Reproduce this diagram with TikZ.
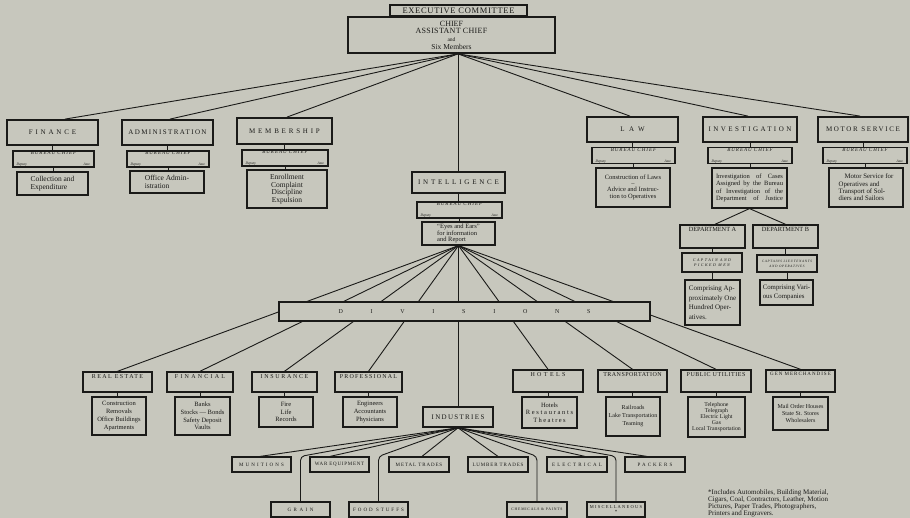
\documentclass[tikz,border=0pt]{standalone}
\usepackage{fontspec}
\setmainfont{Liberation Serif}
\definecolor{paper}{RGB}{199,199,189}
\definecolor{ink}{RGB}{26,26,24}
\newcommand\ls[2]{{\addfontfeatures{LetterSpace=#1}#2}}
\newcommand\fs[2]{\fontsize{#1}{#2}\selectfont}
\newcommand\bureau[1]{\parbox{#1pt}{\centering{\fs{5}{5.4}\itshape\ls{20}{BUREAU CHIEF}}\\[-0.6pt]\makebox[#1pt]{\fs{3.6}{3.8}\itshape Deputy\hfill Asst.}}}
\pgfdeclarelayer{bg}
\pgfsetlayers{bg,main}
\tikzset{
  sz/.style 2 args={minimum width=#1pt, minimum height=#2pt},
  every node/.style={inner sep=0pt, text=ink},
  top/.style={draw=ink, line width=1.8pt, fill=paper, align=center},
  L1/.style={draw=ink, line width=1.8pt, fill=paper, font=\fs{7}{8}},
  bc/.style={draw=ink, line width=1.3pt, fill=paper},
  ct/.style={draw=ink, line width=1.2pt, fill=paper, align=center, font=\fs{6.5}{7.7}},
  lab/.style={anchor=north, yshift=-2.8pt, inner sep=0pt, text=ink, font=\fs{6}{7}},
  hd/.style={draw=ink, line width=1.4pt, fill=paper, label={[lab]north:{#1}}},
  ib/.style={draw=ink, line width=1.2pt, fill=paper, align=center, font=\fs{5}{6}},
  conn/.style={draw=ink, line width=0.9pt},
}
\begin{document}
\begin{tikzpicture}[x=1pt,y=-1pt]
\begin{pgfonlayer}{bg}
\fill[paper] (0,0) rectangle (910,518);
\end{pgfonlayer}
\useasboundingbox (0,0) rectangle (910,518);

% ---------- executive
\node[top, sz={207}{36}, font=\fs{8}{7.6}] (chief) at (451.5,35)
  {CHIEF\\\ls{4}{ASSISTANT CHIEF}\\{\fs{5.5}{7.6}and}\\[0.4pt]{\fs{7.5}{7.6}Six Members}};
\node[top, sz={137}{11}, font=\fs{8.5}{9}] (exec) at (458.5,10.5) {\ls{8}{EXECUTIVE COMMITTEE}};

% ---------- top departments
\node[L1, sz={91}{25}] (finance) at (52.5,132.5) {\ls{40}{FINANCE}};
\node[bc, sz={81}{16}] (finBC) at (53.5,159) {\bureau{74}};
\node[ct, sz={71}{23}, align=left, font=\fs{7.5}{8}] (finC) at (52.5,183.5) {Collection and\\Expenditure};

\node[L1, sz={91}{25}] (admin) at (167.5,132.5) {\ls{20}{ADMINISTRATION}};
\node[bc, sz={82}{16}] (admBC) at (168,159) {\bureau{75}};
\node[ct, sz={74}{22}, align=left, font=\fs{7.5}{8}] (admC) at (167,182) {Office Admin-\\istration};

\node[L1, sz={95}{26}] (memb) at (284.5,131) {\ls{40}{MEMBERSHIP}};
\node[bc, sz={86}{16}] (memBC) at (285,158) {\bureau{79}};
\node[ct, sz={80}{38}, font=\fs{7.5}{7.5}] (memC) at (287,189) {Enrollment\\Complaint\\Discipline\\Expulsion};

\node[L1, sz={91}{25}] (law) at (632.5,129.5) {\ls{65}{LAW}};
\node[bc, sz={83}{15}] (lawBC) at (633.5,155.5) {\bureau{76}};
\node[ct, sz={74}{39}, font=\fs{6.5}{7}] (lawC) at (633,187.5) {Construction of Laws\\[-1pt]--\\[-1pt]Advice and Instruc-\\tion to Operatives};

\node[L1, sz={94}{25}] (inv) at (750,129.5) {\ls{35}{INVESTIGATION}};
\node[bc, sz={84}{15}] (invBC) at (750,155.5) {\bureau{77}};
\node[ct, sz={75}{40}, font=\fs{6.5}{7.3}] (invC) at (749.5,188)
  {\makebox[67pt][s]{Investigation of Cases}\\\makebox[67pt][s]{Assigned by the Bureau}\\\makebox[67pt][s]{of Investigation of the}\\\makebox[67pt][s]{Department of Justice}};

\node[L1, sz={90}{25}] (motor) at (863,129.5) {\ls{24}{MOTOR SERVICE}};
\node[bc, sz={84}{15}] (motBC) at (865,155.5) {\bureau{77}};
\node[ct, sz={74}{39}, align=left, font=\fs{6.8}{7.3}] (motC) at (866,187.5)
  {\hspace*{6pt}Motor Service for\\Operatives and\\Transport of Sol-\\diers and Sailors};

% ---------- investigation departments
\node[hd={\fs{6.3}{7}DEPARTMENT A}, sz={65}{23}] (deptA) at (712.5,236.5) {};
\node[hd={\fs{6.3}{7}DEPARTMENT B}, sz={65}{23}] (deptB) at (785.5,236.5) {};
\node[bc, sz={60}{19}, align=center, font=\fs{4}{5.5}\itshape] (deptA2) at (712,262.5) {\ls{37}{CAPTAIN AND}\\\ls{37}{PICKED MEN}};
\node[bc, sz={60}{17}, align=center, font=\fs{3.4}{5}\itshape] (deptB2) at (787,263.5) {\ls{20}{CAPTAINS LIEUTENANTS}\\\ls{20}{AND OPERATIVES}};
\node[ct, sz={55}{45}, align=left, font=\fs{7}{9.5}] (deptA3) at (712.5,302.5) {Comprising Ap-\\proximately One\\Hundred Oper-\\atives.};
\node[ct, sz={53}{25}, align=left, font=\fs{6.8}{9}] (deptB3) at (786.5,292.5) {Comprising Vari-\\ous Companies};

% ---------- intelligence
\node[L1, sz={93}{21}] (intel) at (458.5,182.5) {\ls{40}{INTELLIGENCE}};
\node[bc, sz={85}{16}] (intBC) at (459.5,210) {\bureau{78}};
\node[ct, sz={73}{23}, align=left, font=\fs{6.5}{6.4}] (eyes) at (458.5,233.5) {``Eyes and Ears''\\for information\\and Report};

% ---------- divisions bar
\node[draw=ink, line width=1.2pt, fill=paper, sz={371}{19}, font=\fs{6}{7}] (div) at (464.5,311.5)
  {\makebox[252pt]{D\hfill I\hfill V\hfill I\hfill S\hfill I\hfill O\hfill N\hfill S}};

% ---------- divisions
\node[hd={\ls{24}{REAL ESTATE}}, sz={69}{20}] (realE) at (117.5,382) {};
\node[hd={\ls{37}{FINANCIAL}}, sz={66}{20}] (finl) at (200,382) {};
\node[hd={\ls{28}{INSURANCE}}, sz={65}{20}] (ins) at (284.5,382) {};
\node[hd={\ls{20}{PROFESSIONAL}}, sz={67}{20}] (prof) at (368.5,382) {};
\node[hd={\ls{40}{HOTELS}}, sz={70}{22}] (hotels) at (548,381) {};
\node[hd={\ls{8}{TRANSPORTATION}}, sz={69}{22}] (trans) at (632.5,381) {};
\node[hd={\ls{9}{PUBLIC UTILITIES}}, sz={70}{22}] (pub) at (716,381) {};
\node[hd={\fs{5}{6}\ls{20}{GEN MERCHANDISE}}, sz={69}{22}] (gen) at (800.5,381) {};
\node[L1, sz={70}{20}, line width=1.6pt] (ind) at (458,417) {\ls{19}{INDUSTRIES}};

\node[ct, sz={54}{38}] (realEC) at (119,416) {Construction\\Removals\\Office Buildings\\Apartments};
\node[ct, sz={55}{38}] (finlC) at (202.5,416) {Banks\\Stocks --- Bonds\\Safety Deposit\\Vaults};
\node[ct, sz={54}{30}] (insC) at (286,412) {Fire\\Life\\Records};
\node[ct, sz={54}{30}] (profC) at (370,412) {Engineers\\Accountants\\Physicians};
\node[ct, sz={55}{31}] (hotC) at (549.5,412.5) {Hotels\\\ls{26}{Restaurants}\\\ls{22}{Theatres}};
\node[ct, sz={54}{39}, font=\fs{6}{8}] (transC) at (633,416.5) {Railroads\\Lake Transportation\\Teaming};
\node[ct, sz={57}{40}, font=\fs{5.8}{6}] (pubC) at (716.5,417) {Telephone\\Telegraph\\Electric Light\\Gas\\Local Transportation};
\node[ct, sz={55}{33}, font=\fs{6}{7}] (genC) at (800.5,413.5) {Mail Order Houses\\State St. Stores\\Wholesalers};

% ---------- industries
\node[ib, sz={59}{15}] (mun) at (261.5,464.5) {\ls{42}{MUNITIONS}};
\node[ib, sz={59}{15}] (war) at (339.5,464.5) {\ls{15}{WAR EQUIPMENT}};
\node[ib, sz={60}{15}] (metal) at (419,464.5) {\ls{18}{METAL TRADES}};
\node[ib, sz={60}{15}] (lumber) at (498,464.5) {\ls{17}{LUMBER TRADES}};
\node[ib, sz={60}{15}] (elec) at (577,464.5) {\ls{43}{ELECTRICAL}};
\node[ib, sz={60}{15}] (pack) at (655,464.5) {\ls{42}{PACKERS}};
\node[ib, sz={59}{15}] (grain) at (300.5,509.5) {\ls{50}{GRAIN}};
\node[ib, sz={59}{15}] (food) at (378.5,509.5) {\ls{40}{FOOD STUFFS}};
\node[ib, sz={60}{15}] (chem) at (537,509.5) {\fs{3.8}{4}\ls{20}{CHEMICALS \& PAINTS}};
\node[ib, sz={58}{15}] (misc) at (616,509.5) {\fs{4.5}{4}\ls{27}{MISCELLANEOUS}\\[-1pt]*};

% ---------- footnote
\node[anchor=north west, align=left, font=\fs{7}{7}] (note) at (708,489)
  {*Includes Automobiles, Building Material,\\Cigars, Coal, Contractors, Leather, Motion\\Pictures, Paper Trades, Photographers,\\Printers and Engravers.};

% ---------- connectors
\begin{pgfonlayer}{bg}
\coordinate (cb) at ([xshift=6.5pt]chief.south);
\draw[conn] (cb) -- ([xshift=12.5pt]finance.north);
\draw[conn] (cb) -- ([xshift=2.5pt]admin.north);
\draw[conn] (cb) -- ([xshift=2.5pt]memb.north);
\draw[conn] (cb) -- ([xshift=-2.5pt]law.north);
\draw[conn] (cb) -- ([xshift=-2pt]inv.north);
\draw[conn] (cb) -- ([xshift=-3pt]motor.north);
\draw[conn] (cb) -- (cb |- intel.north);
\foreach \a/\b in {finance/finBC, finBC/finC, admin/admBC, admBC/admC, memb/memBC, memBC/memC,
  law/lawBC, lawBC/lawC, inv/invBC, invBC/invC, motor/motBC, motBC/motC, intel/intBC, intBC/eyes,
  deptA/deptA2, deptA2/deptA3, deptB/deptB2, deptB2/deptB3, realE/realEC, finl/finlC, ins/insC,
  prof/profC, hotels/hotC, trans/transC, pub/pubC, gen/genC}
  \draw[conn] (\a.south) -- (\a.south |- \b.north);
\draw[conn] (invC.south) -- ([xshift=2.5pt]deptA.north);
\draw[conn] (invC.south) -- (deptB.north);
\foreach \t in {realE, finl, ins, prof, hotels, trans, pub, gen}
  \draw[conn] (eyes.south) -- (\t.north);
\draw[conn] (eyes.south) -- (eyes.south |- ind.north);
\draw[conn] (ind.south) -- ([xshift=-1.5pt]mun.north);
\draw[conn] (ind.south) -- ([xshift=-9.5pt]war.north);
\draw[conn] (ind.south) -- ([xshift=3pt]metal.north);
\draw[conn] (ind.south) -- (lumber.north);
\draw[conn] (ind.south) -- ([xshift=8pt]elec.north);
\draw[conn] (ind.south) -- ([xshift=-8pt]pack.north);
\draw[conn, rounded corners=4pt] (ind.south) -- (grain.north |- mun.north) -- (grain.north);
\draw[conn, rounded corners=4pt] (ind.south) -- (food.north |- mun.north) -- (food.north);
\draw[conn, rounded corners=4pt] (ind.south) -- (chem.north |- mun.north) -- (chem.north);
\draw[conn, rounded corners=4pt] (ind.south) -- (misc.north |- mun.north) -- (misc.north);
\end{pgfonlayer}
\end{tikzpicture}
\end{document}
